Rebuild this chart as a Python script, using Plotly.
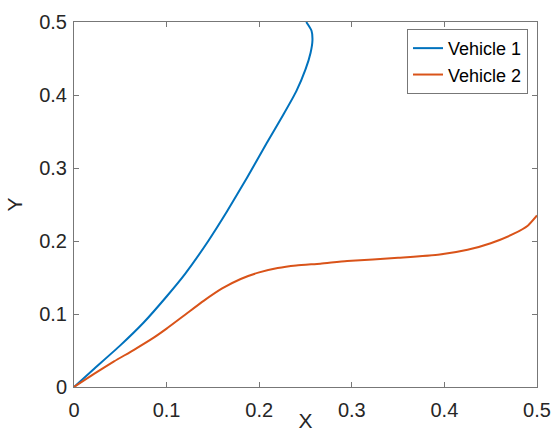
import plotly.graph_objects as go

v1_x = [0, 0.02, 0.05, 0.075, 0.1, 0.12, 0.145, 0.165, 0.187, 0.208, 0.226, 0.24, 0.25, 0.2555, 0.2575, 0.2565, 0.2508]
v1_y = [0, 0.023, 0.057, 0.088, 0.124, 0.155, 0.2, 0.24, 0.287, 0.334, 0.373, 0.405, 0.435, 0.458, 0.475, 0.488, 0.5]

v2_x = [0, 0.0216, 0.0432, 0.0648, 0.0865, 0.1, 0.12, 0.14, 0.16, 0.18, 0.2, 0.22, 0.24, 0.266, 0.295, 0.35, 0.395, 0.425, 0.45, 0.475, 0.49, 0.5]
v2_y = [0, 0.018, 0.035, 0.051, 0.068, 0.08, 0.099, 0.118, 0.135, 0.148, 0.157, 0.163, 0.1665, 0.169, 0.1725, 0.177, 0.1815, 0.188, 0.197, 0.21, 0.221, 0.235]

ticks = [0, 0.1, 0.2, 0.3, 0.4, 0.5]

fig = go.Figure()
fig.add_trace(go.Scatter(x=v1_x, y=v1_y, mode="lines", name="Vehicle 1",
                         line=dict(color="#0072BD", width=2, shape="spline", smoothing=0.6)))
fig.add_trace(go.Scatter(x=v2_x, y=v2_y, mode="lines", name="Vehicle 2",
                         line=dict(color="#D95319", width=2, shape="spline", smoothing=0.6)))

axis_common = dict(range=[0, 0.5], tickvals=ticks, ticktext=[f"{t:g}" for t in ticks],
                   showgrid=False, zeroline=False, showline=True, linecolor="#777777",
                   linewidth=1, mirror="ticks", ticks="inside", ticklen=5, tickcolor="#777777",
                   tickfont=dict(size=20, color="#262626"), automargin=False)

fig.update_layout(
    width=553, height=432,
    margin=dict(l=74, r=16, t=22, b=45),
    paper_bgcolor="white", plot_bgcolor="white",
    font=dict(family="Liberation Sans, Arial, sans-serif", color="#262626"),
    xaxis=dict(**axis_common, ticklabelstandoff=5,
               title=dict(text="X", font=dict(size=21), standoff=0)),
    yaxis=dict(**axis_common, ticklabelstandoff=2,
               title=dict(text="Y", font=dict(size=21), standoff=10)),
    legend=dict(x=0.9806, y=0.981, xanchor="right", yanchor="top",
                bordercolor="#777777", borderwidth=1, bgcolor="white",
                font=dict(size=18, color="#000000"), tracegroupgap=0, itemwidth=30),
    showlegend=True,
)

fig.write_html("out.html", config={"displayModeBar": False},
               post_script="document.body.style.margin='0px';document.body.style.overflow='hidden';")
